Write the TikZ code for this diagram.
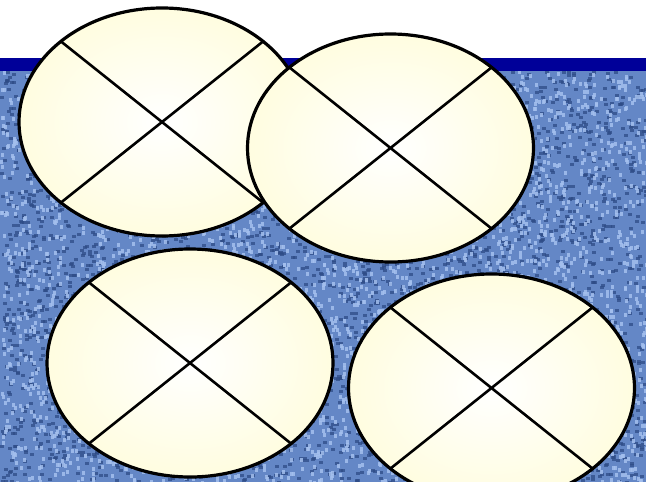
\documentclass[tikz,border=0pt]{standalone}
\usepackage{xcolor}
\usetikzlibrary{shapes.geometric}
\definecolor{navy}{HTML}{000099}
\definecolor{denim}{HTML}{6487C6}
\definecolor{denimdark}{HTML}{2E4C86}
\definecolor{denimlight}{HTML}{A4C0EE}
\definecolor{cream}{HTML}{FFFDE0}
\tikzset{
  pie/.style={ellipse, draw=black, line width=3.2pt, outer sep=0pt,
    minimum width=286pt, minimum height=228pt,
    shading=radial, inner color=white, outer color=cream},
  cut/.style={draw=black, line width=2.6pt},
}
\begin{document}
\begin{tikzpicture}[x=1pt, y=-1pt]
\useasboundingbox (0,0) rectangle (646,482);
\fill[white] (0,0) rectangle (646,482);
\fill[denim] (0,58) rectangle (646,482);
% cloth texture
\pgfmathsetseed{11}
\foreach \i in {1,...,3800} {
  \pgfmathsetmacro{\px}{646*rnd}
  \pgfmathsetmacro{\py}{70+412*rnd}
  \fill[denimdark, opacity=0.75] (\px,\py) rectangle ++(4,3);
}
\foreach \i in {1,...,3800} {
  \pgfmathsetmacro{\px}{646*rnd}
  \pgfmathsetmacro{\py}{70+412*rnd}
  \fill[denimlight, opacity=0.85] (\px,\py) rectangle ++(3,4);
}
\fill[navy] (0,58) rectangle (646,71);
% four sliced ellipses
\node[pie] (e1) at (162,122) {};
\draw[cut] (e1.north west) -- (e1.south east);
\draw[cut] (e1.north east) -- (e1.south west);
\node[pie] (e2) at (390.5,148) {};
\draw[cut] (e2.north west) -- (e2.south east);
\draw[cut] (e2.north east) -- (e2.south west);
\node[pie] (e3) at (190,363) {};
\draw[cut] (e3.north west) -- (e3.south east);
\draw[cut] (e3.north east) -- (e3.south west);
\node[pie] (e4) at (491.5,388) {};
\draw[cut] (e4.north west) -- (e4.south east);
\draw[cut] (e4.north east) -- (e4.south west);
\end{tikzpicture}
\end{document}
